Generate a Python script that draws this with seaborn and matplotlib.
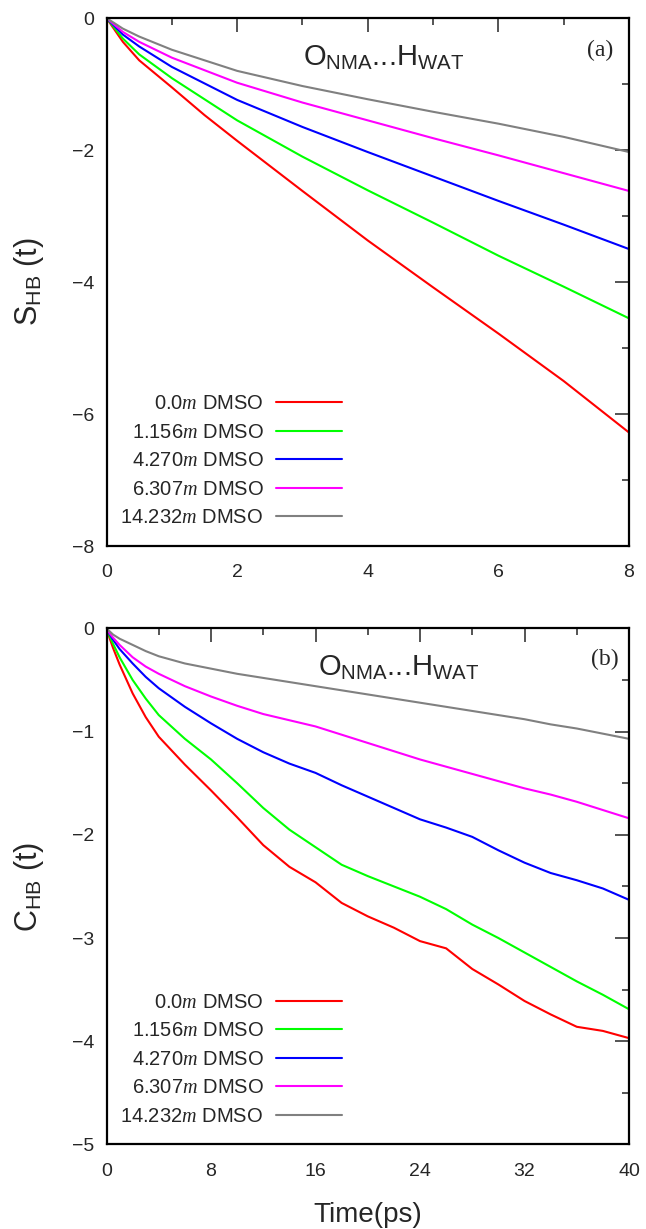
import numpy as np
import pandas as pd
import matplotlib
matplotlib.use("Agg")
import matplotlib.pyplot as plt
from matplotlib.ticker import MultipleLocator
import seaborn as sns

# series labels and colours
labels = ["0.0$m$ DMSO", "1.156$m$ DMSO", "4.270$m$ DMSO", "6.307$m$ DMSO", "14.232$m$ DMSO"]
colors = ["#ff0000", "#00ff00", "#0000ff", "#ff00ff", "#808080"]

# panel (a): S_HB(t), time in ps
t_a = [0, 0.25, 0.5, 1, 1.5, 2, 3, 4, 5, 6, 7, 8]
s_red = [0, -0.36, -0.64, -1.05, -1.47, -1.86, -2.62, -3.37, -4.08, -4.78, -5.50, -6.28]
s_green = [0, -0.31, -0.55, -0.91, -1.23, -1.55, -2.10, -2.61, -3.10, -3.60, -4.07, -4.55]
s_blue = [0, -0.25, -0.43, -0.74, -0.99, -1.24, -1.65, -2.03, -2.40, -2.77, -3.13, -3.50]
s_magenta = [0, -0.21, -0.36, -0.60, -0.79, -0.98, -1.28, -1.55, -1.82, -2.08, -2.35, -2.62]
s_gray = [0, -0.16, -0.28, -0.48, -0.64, -0.80, -1.03, -1.23, -1.42, -1.60, -1.80, -2.03]

# panel (b): C_HB(t), time in ps
t_b = [0, 0.25, 0.5, 1, 2, 3, 4, 6, 8, 10, 12, 14, 16, 18, 20, 22, 24, 26, 28, 30, 32, 34, 36, 38, 40]
c_red = [0, -0.10, -0.19, -0.35, -0.63, -0.86, -1.05, -1.32, -1.57, -1.83, -2.10, -2.31, -2.46,
         -2.66, -2.79, -2.90, -3.03, -3.10, -3.30, -3.45, -3.61, -3.74, -3.86, -3.90, -3.97]
c_green = [0, -0.08, -0.15, -0.28, -0.50, -0.68, -0.84, -1.07, -1.27, -1.50, -1.74, -1.95, -2.12,
           -2.29, -2.40, -2.50, -2.60, -2.72, -2.87, -3.00, -3.14, -3.28, -3.42, -3.55, -3.69]
c_blue = [0, -0.06, -0.11, -0.20, -0.34, -0.47, -0.58, -0.76, -0.92, -1.07, -1.20, -1.31, -1.40,
          -1.52, -1.63, -1.74, -1.85, -1.93, -2.02, -2.15, -2.27, -2.37, -2.44, -2.52, -2.63]
c_magenta = [0, -0.05, -0.09, -0.16, -0.28, -0.37, -0.44, -0.56, -0.66, -0.75, -0.83, -0.89, -0.95,
             -1.03, -1.11, -1.19, -1.27, -1.34, -1.41, -1.48, -1.55, -1.61, -1.68, -1.76, -1.84]
c_gray = [0, -0.03, -0.06, -0.10, -0.16, -0.22, -0.27, -0.34, -0.39, -0.44, -0.48, -0.52, -0.56,
          -0.60, -0.64, -0.68, -0.72, -0.76, -0.80, -0.84, -0.88, -0.93, -0.97, -1.02, -1.07]

sns.set_style("white")
plt.rcParams["font.family"] = ["Liberation Sans", "DejaVu Sans"]
plt.rcParams["mathtext.fontset"] = "custom"
plt.rcParams["mathtext.rm"] = "Liberation Sans"
plt.rcParams["mathtext.sf"] = "Liberation Sans"
plt.rcParams["mathtext.it"] = "Liberation Serif:italic"


def draw_panel(ax, t, series, xlim, ylim, xmaj, xmin, ymaj, ymin, ylabel, tag, title_xy, tag_xy):
    for vals, lab, col in zip(series, labels, colors):
        sns.lineplot(x=t, y=vals, color=col, linewidth=1.5, label=lab, ax=ax, legend=False)

    ax.set_xlim(*xlim)
    ax.set_ylim(*ylim)
    ax.xaxis.set_major_locator(MultipleLocator(xmaj))
    ax.xaxis.set_minor_locator(MultipleLocator(xmin))
    ax.yaxis.set_major_locator(MultipleLocator(ymaj))
    ax.yaxis.set_minor_locator(MultipleLocator(ymin))
    ax.tick_params(which="both", direction="in", top=True, right=True, width=1.1, labelsize=14)
    ax.tick_params(axis="x", pad=13)
    ax.tick_params(axis="y", pad=9)
    ax.tick_params(which="major", length=10)
    ax.tick_params(which="minor", length=5)
    for sp in ax.spines.values():
        sp.set_linewidth(1.6)
        sp.set_color("black")

    ax.set_ylabel(ylabel, fontsize=22)
    ax.yaxis.set_label_coords(-0.115, 0.5)

    ax.text(title_xy[0], title_xy[1], r"O$_{\mathrm{NMA}}$...H$_{\mathrm{WAT}}$",
            transform=ax.transAxes, ha="center", va="center", fontsize=21)
    ax.text(tag_xy[0], tag_xy[1], tag, transform=ax.transAxes, ha="center", va="center",
            fontsize=17, family="Liberation Serif")

    leg = ax.legend(loc="lower right", bbox_to_anchor=(0.451, 0.036), frameon=False,
                    markerfirst=False, fontsize=14.5, handlelength=3.3, handletextpad=0.6,
                    labelspacing=0.47, borderpad=0, borderaxespad=0)
    return leg


fig = plt.figure(figsize=(6.46, 12.29), dpi=100)
ax1 = fig.add_axes([0.1649, 0.5557, 0.8088, 0.4296])
ax2 = fig.add_axes([0.1649, 0.0688, 0.8088, 0.4199])

draw_panel(ax1, t_a, [s_red, s_green, s_blue, s_magenta, s_gray], (0, 8), (-8, 0),
           2, 1, 2, 1, r"S$_{\mathrm{HB}}$ (t)", "(a)", (0.53, 0.925), (0.945, 0.939))
draw_panel(ax2, t_b, [c_red, c_green, c_blue, c_magenta, c_gray], (0, 40), (-5, 0),
           8, 4, 1, 0.5, r"C$_{\mathrm{HB}}$ (t)", "(b)", (0.56, 0.924), (0.953, 0.94))
ax2.set_xlabel("Time(ps)", fontsize=20)
ax2.xaxis.set_label_coords(0.5, -0.112)

fig.savefig("out.png", dpi=100)
